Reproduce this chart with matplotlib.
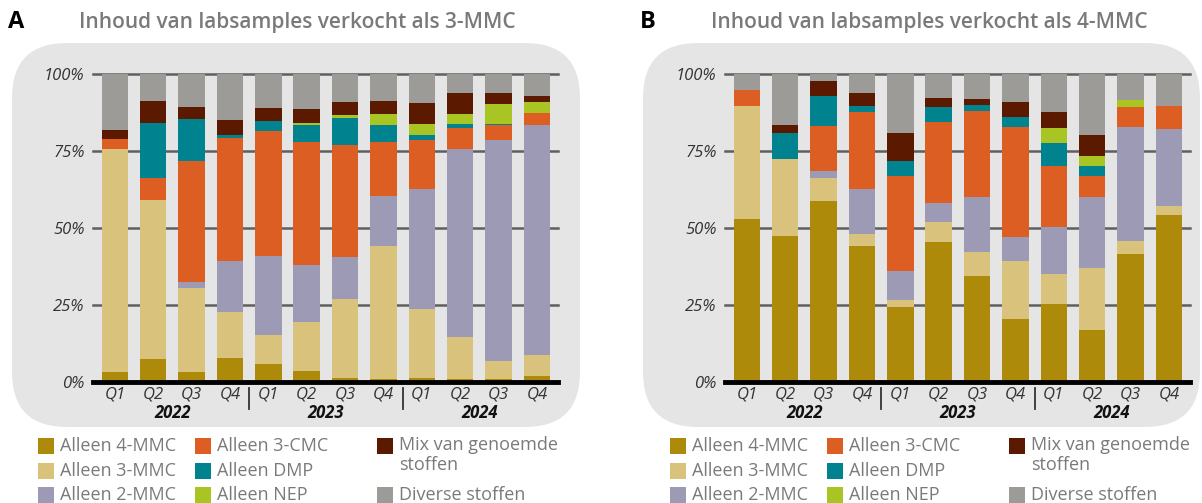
import numpy as np
import matplotlib
matplotlib.use('Agg')
from matplotlib import pyplot as plt
from matplotlib.patches import FancyBboxPatch, Rectangle
from matplotlib.transforms import blended_transform_factory

plt.rcParams['font.family'] = ['Open Sans', 'DejaVu Sans']

# Data (percentages)
quarters = ['Q1', 'Q2', 'Q3', 'Q4'] * 3
years = ['2022', '2023', '2024']
series_names = ['Alleen 4-MMC', 'Alleen 3-MMC', 'Alleen 2-MMC', 'Alleen 3-CMC',
                'Alleen DMP', 'Alleen NEP', 'Mix van genoemde\nstoffen', 'Diverse stoffen']
colors = ['#ad8a0a', '#d9c27b', '#9c9ab5', '#dd5e23',
          '#00838f', '#a8c523', '#5b1a00', '#9c9b98']

# Panel A: labsamples sold as 3-MMC
a_4mmc = [3.3, 7.4, 3.3, 7.8, 5.7, 3.6, 1.4, 1.1, 1.4, 1.1, 1.1, 1.8]
a_3mmc = [72.5, 51.6, 27.3, 15.0, 9.7, 15.9, 25.7, 43.1, 22.4, 13.5, 5.7, 6.9]
a_2mmc = [0, 0, 1.9, 16.5, 25.4, 18.6, 13.6, 16.3, 39.0, 60.9, 71.7, 74.6]
a_3cmc = [3.1, 7.1, 39.2, 40.0, 40.7, 39.9, 36.4, 17.5, 15.7, 7.1, 4.9, 3.9]
a_dmp = [0, 17.9, 13.6, 0.8, 3.3, 5.3, 8.7, 5.3, 1.8, 1.1, 0.3, 0]
a_nep = [0, 0, 0, 0, 0, 0.9, 1.0, 3.6, 3.6, 3.2, 6.7, 3.6]
a_mix = [3.0, 7.1, 4.0, 4.9, 4.3, 4.5, 4.1, 4.2, 6.6, 6.8, 3.3, 2.0]
a_div = [18.1, 8.9, 10.7, 15.0, 10.9, 11.3, 9.1, 8.9, 9.5, 6.3, 6.3, 7.2]

# Panel B: labsamples sold as 4-MMC
b_4mmc = [52.9, 47.5, 58.7, 44.0, 24.2, 45.5, 34.3, 20.6, 25.4, 17.0, 41.7, 54.1]
b_3mmc = [36.7, 24.9, 7.4, 4.2, 2.3, 6.3, 8.0, 18.7, 9.8, 19.9, 4.2, 3.0]
b_2mmc = [0, 0, 2.4, 14.4, 9.5, 6.2, 17.8, 7.8, 15.2, 23.3, 36.8, 25.1]
b_3cmc = [5.2, 0, 14.5, 25.0, 30.8, 26.5, 27.9, 35.8, 19.8, 6.8, 6.6, 7.5]
b_dmp = [0, 8.3, 9.7, 2.0, 4.8, 4.7, 2.0, 3.0, 7.5, 3.1, 0, 0]
b_nep = [0, 0, 0, 0, 0, 0, 0, 0, 4.9, 3.4, 2.1, 0]
b_mix = [0, 2.7, 4.9, 4.2, 9.4, 3.1, 2.0, 4.9, 4.9, 6.6, 0, 0]
b_div = [5.2, 16.6, 2.4, 6.2, 19.0, 7.7, 8.0, 9.2, 12.5, 19.9, 8.6, 10.3]

panels = [
    ('A', 'Inhoud van labsamples verkocht als 3-MMC',
     [a_4mmc, a_3mmc, a_2mmc, a_3cmc, a_dmp, a_nep, a_mix, a_div]),
    ('B', 'Inhoud van labsamples verkocht als 4-MMC',
     [b_4mmc, b_3mmc, b_2mmc, b_3cmc, b_dmp, b_nep, b_mix, b_div]),
]

W, H = 1202, 503
fig = plt.figure(figsize=(W / 100, H / 100), dpi=100)
inch = fig.dpi_scale_trans


def pt(x, y):
    # pixel position (from top-left) -> inches for dpi_scale_trans
    return x / 100, (H - y) / 100


offsets = [0, 632]
bg_boxes = [(12, 43, 580, 427), (643, 43, 1200, 427)]
text_grey = '#7a7a7a'

for (letter, title, series), dx, box in zip(panels, offsets, bg_boxes):
    # rounded grey background
    x0, y0, x1, y1 = box
    bx, by = pt(x0, y1)
    bg = FancyBboxPatch((bx, by), (x1 - x0) / 100, (y1 - y0) / 100,
                        boxstyle='round,pad=0,rounding_size=0.55',
                        transform=inch, fc='#e5e5e5', ec='none', zorder=-10)
    fig.add_artist(bg)

    # panel letter and title
    fig.text(*pt(8 + dx, 22), letter, transform=inch, fontsize=17,
             fontweight='bold', color='black', va='center', ha='left')
    fig.text(*pt(79 + dx, 22), title, transform=inch, fontsize=15,
             fontweight='semibold', color=text_grey, va='center', ha='left')

    # axes
    ax = fig.add_axes([(93 + dx) / W, (H - 382) / H, 465 / W, 308 / H])
    ax.set_facecolor('none')
    for s in ax.spines.values():
        s.set_visible(False)
    ax.set_xlim(-0.57, 11.55)
    ax.set_ylim(0, 100)

    for g in [25, 50, 75, 100]:
        ax.axhline(g, color='#5f5f5f', lw=1.8, zorder=0, clip_on=False)
    ax.axhline(0, color='black', lw=3.5, zorder=4, clip_on=False)

    x = np.arange(12)
    bottom = np.zeros(12)
    for vals, col in zip(series, colors):
        ax.bar(x, vals, bottom=bottom, width=0.69, color=col, lw=0, zorder=2)
        bottom += np.array(vals)

    ax.set_yticks([0, 25, 50, 75, 100])
    ax.set_yticklabels(['0%', '25%', '50%', '75%', '100%'],
                       fontstyle='italic', fontsize=12, color='#333333')
    ax.tick_params(axis='y', length=0, pad=6)
    ax.set_xticks([])

    tr = blended_transform_factory(ax.transData, ax.transAxes)
    for i, q in enumerate(quarters):
        ax.text(i, -0.042, q, transform=tr, ha='center', va='center',
                fontsize=12, fontstyle='italic', color='#333333')
    for k, yr in enumerate(years):
        ax.text(4 * k + 1.5, -0.10, yr, transform=tr, ha='center', va='center',
                fontsize=12, fontstyle='italic', fontweight='bold', color='#111111')
    for sep in [3.5, 7.5]:
        ax.plot([sep, sep], [-0.019, -0.088], transform=tr, color='#333333',
                lw=1.3, clip_on=False)

    # legend
    rows = [446, 471, 495]
    cols = [38, 195, 377]
    slots = [(0, 0), (0, 1), (0, 2), (1, 0), (1, 1), (1, 2), (2, 0), (2, 2)]
    for name, col, (c, r) in zip(series_names, colors, slots):
        sx = cols[c] + dx
        sy = rows[r]
        rx, ry = pt(sx, sy + 8)
        fig.add_artist(Rectangle((rx, ry), 0.16, 0.16, transform=inch,
                                 fc=col, ec='none'))
        if '\n' in name:
            fig.text(*pt(sx + 22, sy - 10), name, transform=inch, fontsize=13,
                     color=text_grey, va='top', ha='left', linespacing=1.12)
        else:
            fig.text(*pt(sx + 22, sy), name, transform=inch, fontsize=13,
                     color=text_grey, va='center', ha='left')

fig.savefig('out.png', dpi=100)
